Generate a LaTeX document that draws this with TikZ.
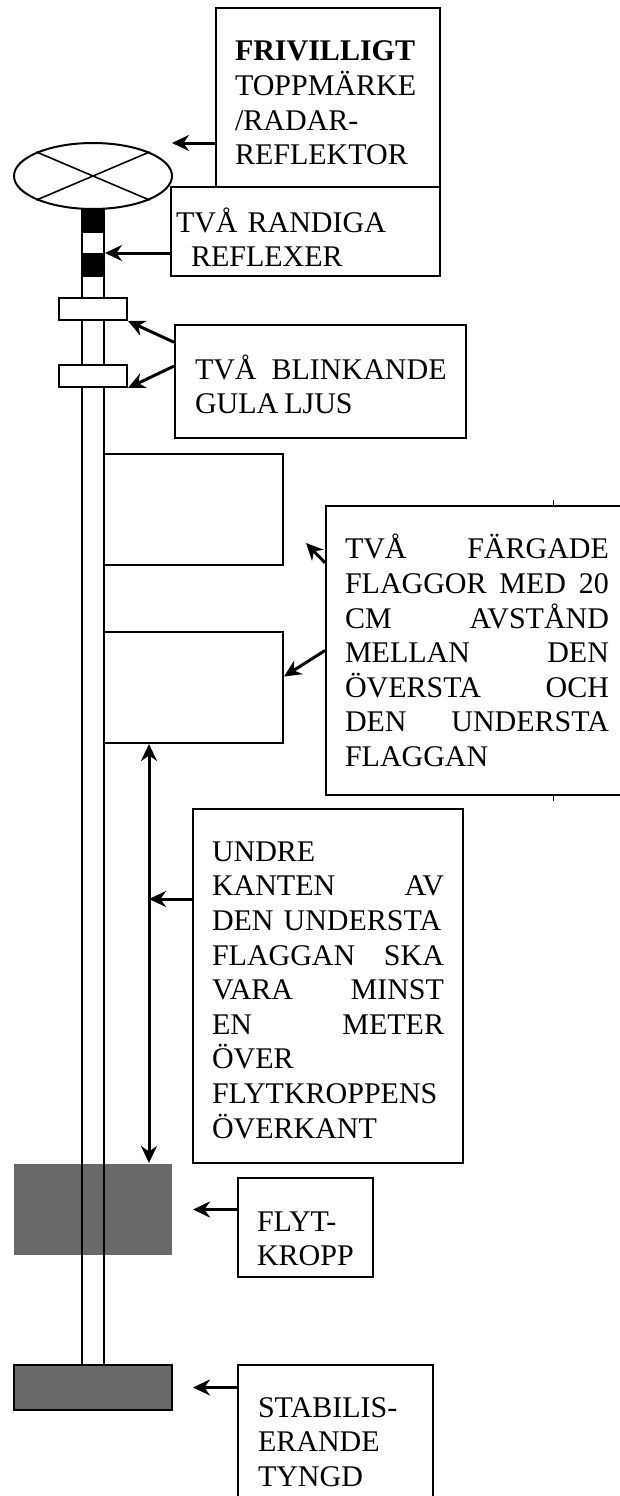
\documentclass[tikz,border=0pt]{standalone}
\usepackage{fontspec}
\setmainfont{Liberation Serif}
\usetikzlibrary{shapes.geometric, arrows.meta}

\begin{document}
\begin{tikzpicture}[x=1pt, y=-1pt, line width=2pt,
        textbox/.style={rectangle, draw, fill=white, align=left, inner ysep=0pt, font=\fontsize{30}{34.6}\selectfont},
        part/.style={rectangle, draw, fill=white, inner sep=0pt},
        pil/.style={-{Stealth[length=17pt, width=16pt]}, line width=3pt},
        dubbelpil/.style={{Stealth[length=17pt, width=16pt]}-{Stealth[length=17pt, width=16pt]}, line width=3pt}]

        \useasboundingbox (0,0) rectangle (619,1496);

        \node (float) [part, draw=none, fill=black!59, minimum width=158pt, minimum height=91pt] at (93,1209.5) {};
        \node (pole) [part, fill=none, minimum width=22pt, minimum height=1156pt] at (93,787) {};
        \node (stripe1) [part, fill=black, minimum width=22pt, minimum height=22pt] at (93,221) {};
        \node (stripe2) [part, fill=black, minimum width=22pt, minimum height=22pt] at (93,265) {};
        \node (light1) [part, minimum width=68pt, minimum height=22pt] at (93,309) {};
        \node (light2) [part, minimum width=68pt, minimum height=22pt] at (93,376) {};
        \node (topmark) [ellipse, draw, fill=white, inner sep=0pt, minimum width=158pt, minimum height=66pt] at (93,176) {};
        \draw [line width=1.6pt] (topmark.north west) -- (topmark.south east);
        \draw [line width=1.6pt] (topmark.north east) -- (topmark.south west);
        \node (flag1) [part, minimum width=179pt, minimum height=111pt] at (193.5,509.5) {};
        \node (flag2) [part, minimum width=179pt, minimum height=111pt] at (193.5,687.5) {};
        \node (weight) [part, fill=black!59, minimum width=158pt, minimum height=45pt] at (93,1387.5) {};

        \node (box1) [textbox, text width=186pt, inner xsep=19pt, minimum height=179pt] at (328,97.5) {\rule{0pt}{31pt}\textbf{FRIVILLIGT}\\TOPPMÄRKE\\/RADAR-\\REFLEKTOR};
        \node (box2) [textbox, text width=259pt, inner xsep=5pt, minimum height=89pt] at (305.5,231.5) {\rule{0pt}{36pt}TVÅ RANDIGA\\\hspace*{15pt}REFLEXER};
        \node (box3) [textbox, text width=251pt, inner xsep=20pt, minimum height=113pt] at (320.5,381.5) {\rule{0pt}{30pt}\mbox{TVÅ\hspace{15pt}BLINKANDE}\\GULA\hspace{6pt}LJUS};
        \node (box4) [textbox, text width=264pt, inner xsep=19pt, minimum height=289pt] at (477,650.5) {TVÅ\hfill FÄRGADE\\FLAGGOR\hfill MED\hfill 20\\CM\hfill AVSTÅND\\MELLAN\hfill DEN\\ÖVERSTA\hfill OCH\\DEN\hfill UNDERSTA\\FLAGGAN};
        \node (box5) [textbox, text width=232pt, inner xsep=19pt, minimum height=354pt] at (328,986) {\rule{0pt}{28pt}UNDRE\\KANTEN\hfill AV\\DEN UNDERSTA\\FLAGGAN\hfill SKA\\VARA\hfill MINST\\EN\hfill METER\\ÖVER\\FLYTKROPPENS\\ÖVERKANT};
        \node (box6) [textbox, text width=97pt, inner xsep=19pt, minimum height=99pt] at (305.5,1227.5) {\rule{0pt}{42pt}FLYT-\\KROPP};
        \node (box7) [textbox, text width=155pt, inner xsep=20pt, minimum height=154pt] at (335.5,1442) {STABILIS-\\ERANDE\\TYNGD};

        % free ends
        \coordinate (tip1) at (172,143);
        \coordinate (tip2) at (306,543);
        \coordinate (span) at (149,899);
        \coordinate (mark) at (553,500);

        \draw [pil] (box1.west |- tip1) -- (tip1);
        \draw [pil] (box2.west |- stripe2.north) -- (stripe2.north east);
        \draw [pil] (box3.165) -- (light1.south east);
        \draw [pil] (box3.174) -- (light2.south east);
        \draw [pil] (box4.150) -- (tip2);
        \draw [pil] (box4.west) -- ([yshift=11pt]flag2.east);
        \draw [dubbelpil] (span |- flag2.south) -- (span |- float.north);
        \draw [pil] (box5.west |- span) -- (span);
        \draw [pil] (box6.west |- float.center) -- ++(-44,0);
        \draw [pil] (box7.west |- weight.center) -- ++(-44,0);
        \draw [line width=1pt] (mark) -- (mark |- box4.north);
        \draw [line width=1pt] (mark |- box4.south) -- ++(0,5);
\end{tikzpicture}
\end{document}
